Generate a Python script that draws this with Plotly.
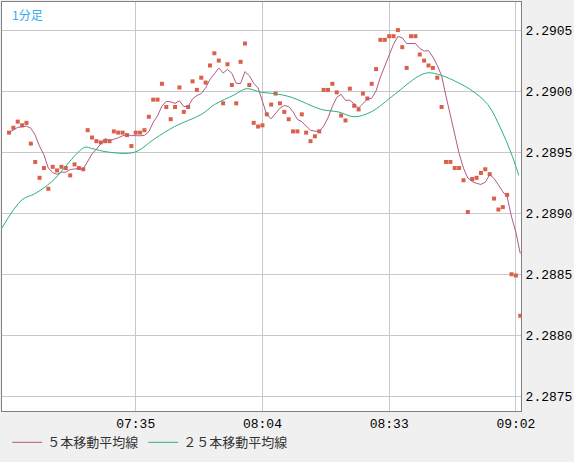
import plotly.graph_objects as go
import pandas as pd

start = "2024-01-01 07:06"
prices = [2.28966,2.28970,2.28975,2.28972,2.28974,2.28957,2.28942,2.28929,2.28937,2.28920,
2.28938,2.28935,2.28938,2.28937,2.28931,2.28940,2.28937,2.28936,2.28968,2.28962,
2.28959,2.28958,2.28959,2.28959,2.28967,2.28966,2.28966,2.28964,2.28955,2.28966,
2.28966,2.28968,2.28979,2.28993,2.28993,2.29006,2.28987,2.28977,2.28987,2.29003,
2.28983,2.28987,2.29008,2.29001,2.29011,2.29007,2.29021,2.29031,2.29025,2.28990,
2.29022,2.29005,2.28990,2.29024,2.29039,2.29005,2.28974,2.28971,
2.28972,2.28981,2.28989,2.28998,2.28990,2.28983,2.28977,2.28967,2.28967,2.28981,
2.28966,2.28959,2.28963,2.28967,2.29001,2.29001,2.29006,2.28999,2.28980,2.28976,
2.29002,2.28988,2.28985,2.28998,2.28994,2.29006,2.29018,2.29042,2.29042,2.29045,
2.29045,2.29050,2.29036,2.29019,2.29045,2.29045,2.29030,2.29025,2.29021,2.29019,
2.29011,2.28987,2.28942,2.28942,2.28937,2.28937,2.28927,2.28901,2.28928,2.28929,
2.28933,2.28936,2.28932,2.28912,2.28903,2.28905,2.28915,2.28850,2.28849,2.28816]
times = pd.date_range(start, periods=len(prices), freq="1min")
ma5 = pd.Series(prices).rolling(5, min_periods=1).mean()

ma25_times = ["07:04:24","07:08:58","07:11:56","07:15:50","07:23:21","07:24:57","07:28:50","07:34:46",
"07:39:20","07:43:54","07:50:04","07:53:02","07:57:36","08:00:20","08:03:46","08:06:44","08:10:36",
"08:17:28","08:21:20","08:25:00","08:28:52","08:34:08","08:39:36","08:41:54","08:44:52","08:48:44",
"08:51:42","08:55:35","08:58:34","09:00:50","09:02:40"]
ma25_vals = [2.28888,2.28911,2.28916,2.28926,2.28954,2.28953,2.28950,2.28950,2.28961,2.28971,2.28981,
2.28989,2.28997,2.29002,2.28999,2.28998,2.28995,2.28985,2.28983,2.28979,2.28983,2.28997,2.29012,
2.29015,2.29013,2.29007,2.29001,2.28989,2.28969,2.28950,2.28931]
ma25_x = ["2024-01-01 " + t for t in ma25_times]

tick_labels = ["07:35", "08:04", "08:33", "09:02"]
tick_vals = ["2024-01-01 " + t for t in tick_labels]

fig = go.Figure()
fig.add_trace(go.Scatter(x=times, y=prices, mode="markers", showlegend=False,
    marker=dict(symbol="square", size=4, color="#d9604a")))
fig.add_trace(go.Scatter(x=times, y=ma5, mode="lines", name="５本移動平均線",
    line=dict(color="#b05a85", width=1)))
fig.add_trace(go.Scatter(x=ma25_x, y=ma25_vals, mode="lines", name="２５本移動平均線",
    line=dict(color="#2bb080", width=1, shape="spline")))

fig.update_layout(
    width=574, height=462, paper_bgcolor="#f0f0f0", plot_bgcolor="white",
    margin=dict(l=2, r=53, t=2, b=51, autoexpand=False),
    font=dict(family="Liberation Mono", size=13, color="black"),
    legend=dict(orientation="h", x=0.01, y=-0.04, xanchor="left", yanchor="top",
                itemwidth=30, bgcolor="rgba(0,0,0,0)",
                font=dict(family="Noto Sans CJK JP", size=13, color="#333")),
    xaxis=dict(range=["2024-01-01 07:04:24", "2024-01-01 09:03:10"], tickvals=tick_vals,
               ticktext=tick_labels, showgrid=True, gridcolor="#c8c8c8", showline=True,
               linecolor="#808080", mirror=True, ticks="", zeroline=False),
    yaxis=dict(side="right", range=[2.28738, 2.29073], tickvals=[2.2875,2.2880,2.2885,2.2890,2.2895,2.2900,2.2905],
               tickformat=".4f", showgrid=True, gridcolor="#c8c8c8", showline=True,
               linecolor="#808080", mirror=True, ticks="", zeroline=False, ticklabelstandoff=1),
    annotations=[dict(text="1分足", xref="paper", yref="paper", x=0.015, y=0.995,
                      xanchor="left", yanchor="top", showarrow=False,
                      font=dict(family="Noto Sans CJK JP", size=12, color="#33aaee"))],
)
fig.write_html("out.html", config={"displayModeBar": False},
               post_script="document.body.style.margin='0';document.body.style.overflow='hidden';")
